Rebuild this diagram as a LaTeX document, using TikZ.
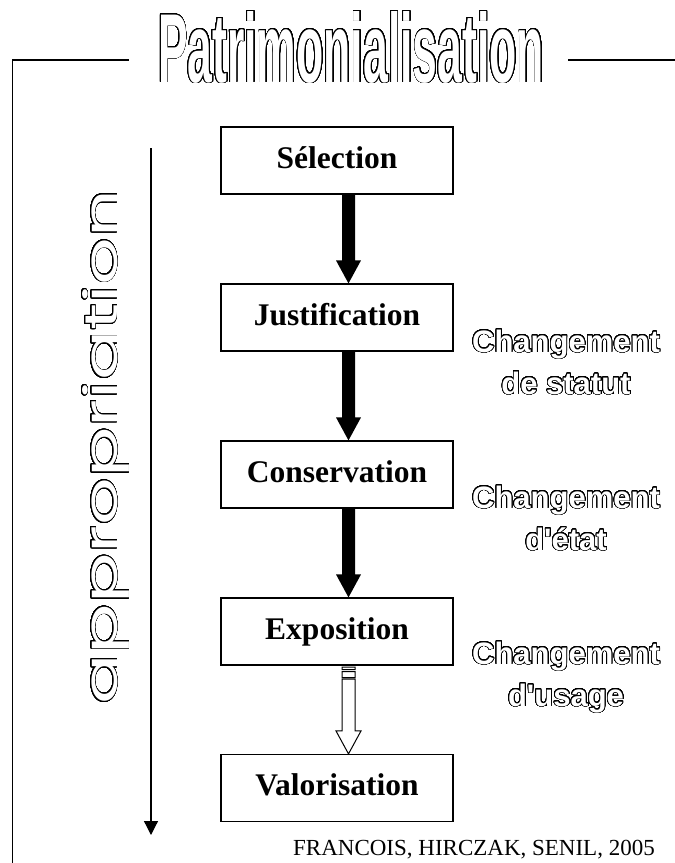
\documentclass[tikz,border=0pt]{standalone}
\usepackage{fontspec}
\setmainfont{Liberation Serif}
\newfontfamily\arialf{Liberation Sans}
\newfontfamily\popf{Poppins}
\usepackage{contour}
\contournumber{48}
\usetikzlibrary{arrows.meta,calc}
\newcommand{\hollowtxt}[2]{{\color{white}\contourlength{#1}\contour{black}{#2}}}
\newcommand{\blackarrow}[2]{%
  \fill let \p1=(#1.south), \p2=(#2.north) in
   ({\x1+5pt},\y1) -- ({\x1+18pt},\y1) -- ({\x1+18pt},{\y2+23pt}) --
   ({\x1+24pt},{\y2+23pt}) -- ({\x1+11.5pt},\y2) -- ({\x1-1pt},{\y2+23pt}) --
   ({\x1+5pt},{\y2+23pt}) -- cycle;}
\begin{document}
\begin{tikzpicture}[x=1pt,y=-1pt,
  box/.style={draw,line width=1.2pt,minimum width=232pt,minimum height=67pt,
    inner sep=0pt,text height=15pt,text depth=0pt,
    font=\fontsize{31.5}{36}\selectfont\bfseries},
  lab/.style={align=center,font=\arialf\bfseries\fontsize{31}{42}\selectfont},
  frameline/.style={line width=1.3pt}]
\useasboundingbox[fill=white] (0,0) rectangle (675,863);

% title and frame
\node[anchor=base,inner sep=0pt] (title) at (351,82)
  {\hollowtxt{0.8pt}{\resizebox{386pt}{71pt}{\arialf\bfseries\fontsize{100}{100}\selectfont Patrimonialisation}}};
\draw[frameline] (12.7,863) -- (12.7,60) -- (129,60);
\draw[frameline] (568,60) -- (675,60);

% appropriation
\node[rotate=90,anchor=base,inner sep=0pt] (app) at (117,447)
  {\hollowtxt{0.9pt}{\resizebox{515pt}{35pt}{\popf\fontsize{50}{50}\selectfont appropriation}}};
\coordinate (atop) at (151,148);
\coordinate (abot) at (151,835);
\draw[line width=1.2pt,-{Triangle[width=14pt,length=14pt]}] (atop) -- (abot);

% boxes
\node[box] (sel) at (337,160.5) {Sélection};
\node[box] (jus) at (337,317.5) {Justification};
\node[box] (con) at (337,474.5) {Conservation};
\node[box] (exp) at (337,631.5) {Exposition};
\node[box] (val) at (337,788) {Valorisation};

\blackarrow{sel}{jus}
\blackarrow{jus}{con}
\blackarrow{con}{exp}

% striped white arrow
\draw[line width=1pt] let \p1=(exp.south), \p2=(val.north) in
  ({\x1+5pt},{\y1-1.5pt}) rectangle ({\x1+18pt},{\y1-4pt})
  ({\x1+5pt},{\y1-6pt}) rectangle ({\x1+18pt},{\y1-12pt})
  ({\x1+5pt},{\y1-13.5pt}) -- ({\x1+18pt},{\y1-13.5pt}) -- ({\x1+18pt},{\y2+23pt}) --
  ({\x1+24pt},{\y2+23pt}) -- ({\x1+11.5pt},\y2) -- ({\x1-1pt},{\y2+23pt}) --
  ({\x1+5pt},{\y2+23pt}) -- cycle;

% side labels (anchor = baseline of the last line)
\node[lab,anchor=base] (l1) at (566,394) {\hollowtxt{0.8pt}{Changement}\\\hollowtxt{0.8pt}{de statut}};
\node[lab,anchor=base] (l2) at (566,550) {\hollowtxt{0.8pt}{Changement}\\\hollowtxt{0.8pt}{d'état}};
\node[lab,anchor=base] (l3) at (566,706) {\hollowtxt{0.8pt}{Changement}\\\hollowtxt{0.8pt}{d'usage}};

% source
\node[anchor=base east,inner sep=0pt,font=\fontsize{23}{23}\selectfont] (src) at (655,855)
  {FRANCOIS, HIRCZAK, SENIL, 2005};
\end{tikzpicture}
\end{document}
